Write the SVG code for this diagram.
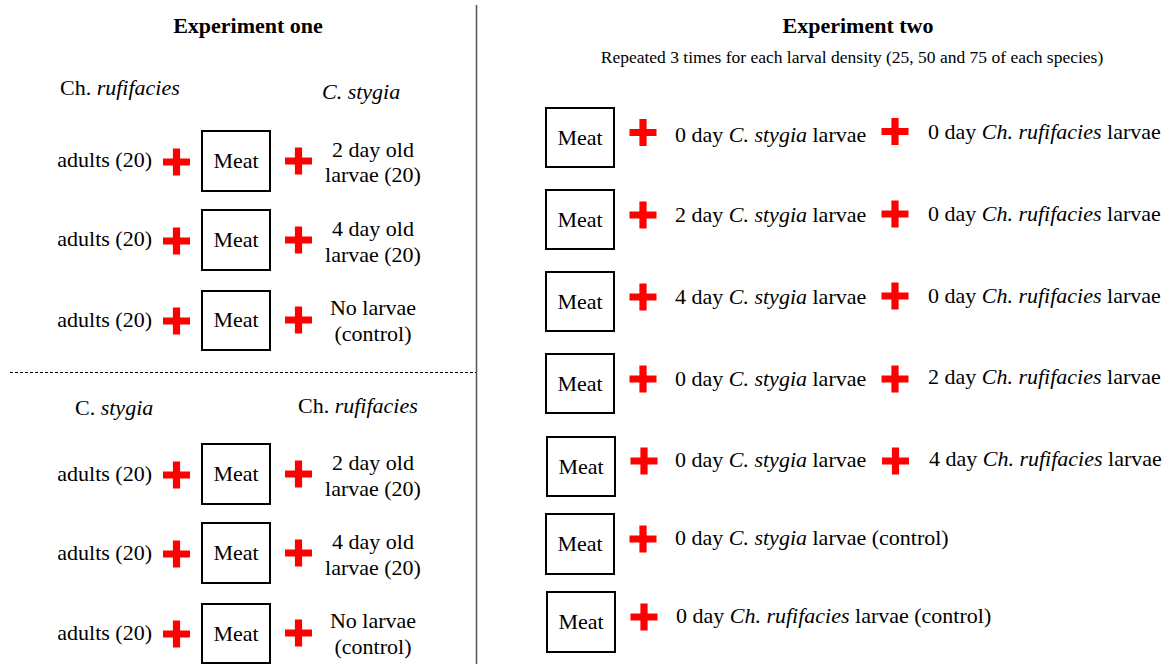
<svg xmlns="http://www.w3.org/2000/svg" xmlns:xlink="http://www.w3.org/1999/xlink" width="1173" height="664" viewBox="0 0 1173 664">
<style>
text{font-family:"Liberation Serif","Times New Roman",serif;font-size:22px;fill:#000}
.title{font-weight:bold}
.sub{font-size:17.5px}
.mid{text-anchor:middle}
.end{text-anchor:end}
.box{fill:#fff;stroke:#000;stroke-width:2}
.plus{fill:#ff0000}
</style>
<defs>
<path id="plus" class="plus" d="M-13.5,-3.6h27v7.2h-27z M-3.6,-13.5h7.2v27h-7.2z"/>
</defs>
<rect width="1173" height="664" fill="#fff"/>
<g id="separators">
<line x1="476.5" y1="5" x2="476.5" y2="664" stroke="#555" stroke-width="1.5"/>
<line x1="10" y1="372.5" x2="476" y2="372.5" stroke="#000" stroke-width="1" stroke-dasharray="3 2"/>
</g>
<g id="exp1-headers">
<text class="title mid" x="248" y="33">Experiment one</text>
<text x="60" y="95">Ch. <tspan font-style="italic">rufifacies</tspan></text>
<text x="322" y="99"><tspan font-style="italic">C. stygia</tspan></text>
<text x="75" y="415">C. <tspan font-style="italic">stygia</tspan></text>
<text x="298" y="413">Ch. <tspan font-style="italic">rufifacies</tspan></text>
</g>
<g id="e1-row1">
<text class="end" x="152" y="167">adults (20)</text>
<use xlink:href="#plus" x="176.5" y="162"/>
<g id="e1-meat1"><rect class="box" x="202" y="131" width="68" height="60"/><text class="mid" x="236" y="168">Meat</text></g>
<use xlink:href="#plus" x="298.5" y="161"/>
<text class="mid" x="373" y="157">2 day old</text>
<text class="mid" x="373" y="182">larvae (20)</text>
</g>
<g id="e1-row2">
<text class="end" x="152" y="246">adults (20)</text>
<use xlink:href="#plus" x="176.5" y="241"/>
<g id="e1-meat2"><rect class="box" x="202" y="210" width="68" height="60"/><text class="mid" x="236" y="247">Meat</text></g>
<use xlink:href="#plus" x="298.5" y="240"/>
<text class="mid" x="373" y="236">4 day old</text>
<text class="mid" x="373" y="262">larvae (20)</text>
</g>
<g id="e1-row3">
<text class="end" x="152" y="327">adults (20)</text>
<use xlink:href="#plus" x="176.5" y="321"/>
<g id="e1-meat3"><rect class="box" x="202" y="291" width="68" height="59"/><text class="mid" x="236" y="327">Meat</text></g>
<use xlink:href="#plus" x="298.5" y="320"/>
<text class="mid" x="373" y="315">No larvae</text>
<text class="mid" x="373" y="341">(control)</text>
</g>
<g id="e1-row4">
<text class="end" x="152" y="481">adults (20)</text>
<use xlink:href="#plus" x="176.5" y="475"/>
<g id="e1-meat4"><rect class="box" x="202" y="444" width="68" height="60"/><text class="mid" x="236" y="481">Meat</text></g>
<use xlink:href="#plus" x="298.5" y="474"/>
<text class="mid" x="373" y="470">2 day old</text>
<text class="mid" x="373" y="496">larvae (20)</text>
</g>
<g id="e1-row5">
<text class="end" x="152" y="560">adults (20)</text>
<use xlink:href="#plus" x="176.5" y="554"/>
<g id="e1-meat5"><rect class="box" x="202" y="523" width="68" height="60"/><text class="mid" x="236" y="560">Meat</text></g>
<use xlink:href="#plus" x="298.5" y="553"/>
<text class="mid" x="373" y="549">4 day old</text>
<text class="mid" x="373" y="575">larvae (20)</text>
</g>
<g id="e1-row6">
<text class="end" x="152" y="640">adults (20)</text>
<use xlink:href="#plus" x="176.5" y="634"/>
<g id="e1-meat6"><rect class="box" x="202" y="604" width="68" height="59"/><text class="mid" x="236" y="641">Meat</text></g>
<use xlink:href="#plus" x="298.5" y="633"/>
<text class="mid" x="373" y="628">No larvae</text>
<text class="mid" x="373" y="654">(control)</text>
</g>
<g id="exp2-headers">
<text class="title mid" x="858" y="33">Experiment two</text>
<text class="sub mid" x="852" y="63">Repeated 3 times for each larval density (25, 50 and 75 of each species)</text>
</g>
<g id="e2-row1">
<g id="e2-meat1"><rect class="box" x="546" y="108" width="68" height="59"/><text class="mid" x="580" y="145">Meat</text></g>
<use xlink:href="#plus" x="643" y="132.5"/>
<text x="675" y="142">0 day <tspan font-style="italic">C. stygia</tspan> larvae</text>
<use xlink:href="#plus" x="895" y="131.5"/>
<text x="928" y="139">0 day <tspan font-style="italic">Ch. rufifacies</tspan> larvae</text>
</g>
<g id="e2-row2">
<g id="e2-meat2"><rect class="box" x="546" y="190" width="68" height="59"/><text class="mid" x="580" y="227">Meat</text></g>
<use xlink:href="#plus" x="643" y="215"/>
<text x="675" y="222">2 day <tspan font-style="italic">C. stygia</tspan> larvae</text>
<use xlink:href="#plus" x="895" y="214"/>
<text x="928" y="221">0 day <tspan font-style="italic">Ch. rufifacies</tspan> larvae</text>
</g>
<g id="e2-row3">
<g id="e2-meat3"><rect class="box" x="546" y="272" width="68" height="59"/><text class="mid" x="580" y="309">Meat</text></g>
<use xlink:href="#plus" x="643" y="297"/>
<text x="675" y="304">4 day <tspan font-style="italic">C. stygia</tspan> larvae</text>
<use xlink:href="#plus" x="895" y="296"/>
<text x="928" y="303">0 day <tspan font-style="italic">Ch. rufifacies</tspan> larvae</text>
</g>
<g id="e2-row4">
<g id="e2-meat4"><rect class="box" x="546" y="354" width="68" height="59"/><text class="mid" x="580" y="391">Meat</text></g>
<use xlink:href="#plus" x="643" y="379"/>
<text x="675" y="386">0 day <tspan font-style="italic">C. stygia</tspan> larvae</text>
<use xlink:href="#plus" x="895" y="379"/>
<text x="928" y="384">2 day <tspan font-style="italic">Ch. rufifacies</tspan> larvae</text>
</g>
<g id="e2-row5">
<g id="e2-meat5"><rect class="box" x="547" y="437" width="68" height="59"/><text class="mid" x="581" y="474">Meat</text></g>
<use xlink:href="#plus" x="644" y="461"/>
<text x="675" y="467">0 day <tspan font-style="italic">C. stygia</tspan> larvae</text>
<use xlink:href="#plus" x="895.5" y="461"/>
<text x="929" y="466">4 day <tspan font-style="italic">Ch. rufifacies</tspan> larvae</text>
</g>
<g id="e2-row6">
<g id="e2-meat6"><rect class="box" x="546" y="514" width="68" height="60"/><text class="mid" x="580" y="551">Meat</text></g>
<use xlink:href="#plus" x="643" y="539"/>
<text x="675" y="545">0 day <tspan font-style="italic">C. stygia</tspan> larvae (control)</text>
</g>
<g id="e2-row7">
<g id="e2-meat7"><rect class="box" x="547" y="592" width="68" height="60"/><text class="mid" x="581" y="629">Meat</text></g>
<use xlink:href="#plus" x="644" y="617"/>
<text x="676" y="623">0 day <tspan font-style="italic">Ch. rufifacies</tspan> larvae (control)</text>
</g>
</svg>
